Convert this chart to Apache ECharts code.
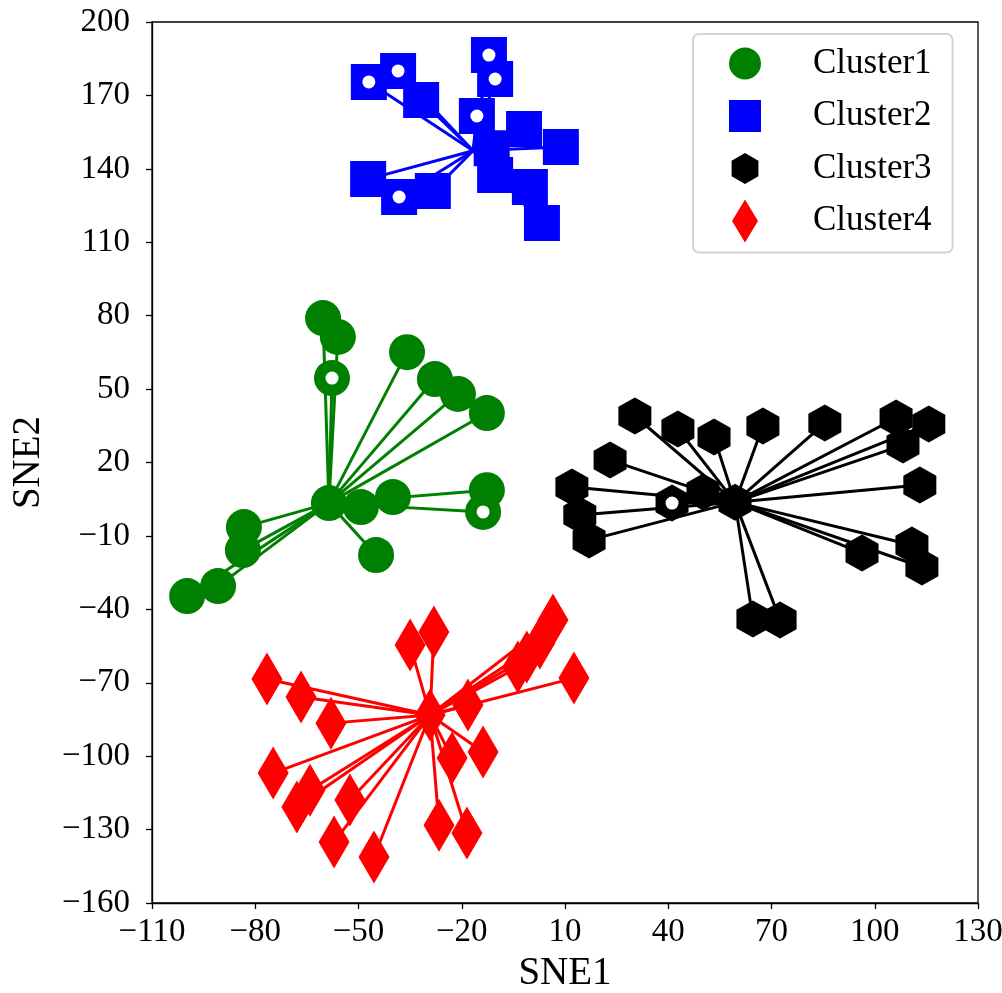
<!DOCTYPE html>
<html>
<head>
<meta charset="utf-8">
<title>SNE clusters</title>
<script src="https://cdn.jsdelivr.net/npm/echarts@6/dist/echarts.min.js"></script>
<style>
  html, body { margin: 0; padding: 0; background: #ffffff; }
  #chart { width: 1002px; height: 993px; }
</style>
</head>
<body>
<div id="chart"></div>
<script>
// Embedded points (SNE1, SNE2) for each cluster
const cluster1Points = [
  [-60.3, 79.0], [-56.0, 71.3], [-57.7, 54.5], [-35.9, 65.1], [-27.8, 54.1],
  [-21.1, 48.0], [-12.7, 40.2], [-58.6, 3.4], [-49.3, 1.8], [-40.0, 5.9],
  [-12.7, 8.7], [-13.8, -0.2], [-44.9, -17.8], [-83.3, -6.4], [-83.6, -15.8],
  [-90.8, -30.5], [-99.8, -34.6]
];
const cluster1Center = [-58.6, 3.4];
const cluster1Marked = [2, 11];

const cluster2Points = [
  [-47.0, 175.5], [-38.5, 180.0], [-31.8, 168.1], [-12.1, 186.5], [-10.3, 176.7],
  [-15.6, 161.6], [-1.9, 156.3], [8.8, 148.9], [-11.3, 148.4], [-10.3, 137.5],
  [-0.2, 132.6], [3.3, 117.9], [-47.2, 135.8], [-38.2, 128.5], [-28.4, 130.9]
];
const cluster2Center = [-16.7, 147.4];
const cluster2Marked = [0, 1, 3, 4, 5, 13];

const cluster3Points = [
  [30.3, 39.0], [42.8, 33.7], [53.3, 30.4], [67.5, 34.9], [85.5, 36.1],
  [106.2, 38.2], [115.7, 35.7], [108.2, 27.1], [23.1, 21.0], [12.0, 10.0],
  [14.3, -1.5], [17.0, -11.7], [41.1, 3.4], [50.1, 7.9], [59.4, 3.8],
  [113.1, 10.8], [96.3, -17.0], [110.8, -13.7], [113.7, -22.7], [64.6, -44.0],
  [72.5, -44.4]
];
const cluster3Center = [59.4, 3.8];
const cluster3Marked = [12];

const cluster4Points = [
  [-76.6, -68.5], [-66.7, -75.8], [-58.0, -86.5], [-35.0, -54.6], [-28.1, -49.3],
  [6.5, -44.4], [2.7, -53.8], [-1.1, -59.5], [-3.7, -63.6], [12.6, -68.1],
  [-18.2, -79.1], [-29.2, -83.2], [-13.8, -98.3], [-22.8, -100.8], [-74.8, -106.9],
  [-64.1, -113.9], [-67.9, -120.8], [-52.5, -117.9], [-57.1, -135.1], [-45.5, -141.2],
  [-26.6, -128.2], [-18.5, -131.4]
];
const cluster4Center = [-29.2, -83.2];
const cluster4Marked = [];

const clusterNames = ['Cluster1', 'Cluster2', 'Cluster3', 'Cluster4'];
const clusterColors = ['#008000', '#0000ff', '#000000', '#ff0000'];

const xTicks = { min: -110, max: 130, step: 30 };
const yTicks = { min: -160, max: 200, step: 30 };

// Marker shapes
const HEX = 'path://M0,-1 L0.866,-0.5 L0.866,0.5 L0,1 L-0.866,0.5 L-0.866,-0.5 Z';
const markerSymbols = ['circle', 'rect', HEX, 'diamond'];
const markerSizes = [36, 36, [33, 37], [31, 53]];

// Legend icons share a 32x43 box so every shape keeps its own proportions
const legendIcons = [
  'path://M0,21.5 A16,16 0 1,1 32,21.5 A16,16 0 1,1 0,21.5 Z M0,0 M32,43',
  'path://M0,5.5 L32,5.5 L32,37.5 L0,37.5 Z M0,0 M32,43',
  'path://M16,6 L29.4,13.75 L29.4,29.25 L16,37 L2.6,29.25 L2.6,13.75 Z M0,0 M32,43',
  'path://M16,0 L29,21.5 L16,43 L3,21.5 Z M0,0 M32,43'
];

const clusters = [
  { pts: cluster1Points, center: cluster1Center, marked: cluster1Marked },
  { pts: cluster2Points, center: cluster2Center, marked: cluster2Marked },
  { pts: cluster3Points, center: cluster3Center, marked: cluster3Marked },
  { pts: cluster4Points, center: cluster4Center, marked: cluster4Marked }
];

const FONT = '"Liberation Serif", "Times New Roman", serif';
const minus = v => String(v).replace('-', '\u2212');

const series = [];
clusters.forEach((c, i) => {
  // spokes from the cluster hub to each member
  series.push({
    name: clusterNames[i] + ' links',
    type: 'lines',
    coordinateSystem: 'cartesian2d',
    z: 1 + i * 3,
    silent: true,
    lineStyle: { color: clusterColors[i], width: 3, opacity: 1 },
    data: c.pts
      .filter(p => !(p[0] === c.center[0] && p[1] === c.center[1]))
      .map(p => ({ coords: [c.center, p] }))
  });
  series.push({
    name: clusterNames[i],
    type: 'scatter',
    z: 2 + i * 3,
    symbol: markerSymbols[i],
    symbolSize: markerSizes[i],
    itemStyle: { color: clusterColors[i], opacity: 1 },
    data: c.pts
  });
  if (c.marked.length) {
    series.push({
      name: clusterNames[i] + ' marked',
      type: 'scatter',
      z: 3 + i * 3,
      symbol: 'circle',
      symbolSize: 13,
      itemStyle: { color: '#ffffff', opacity: 1 },
      data: c.marked.map(k => c.pts[k])
    });
  }
});

const chart = echarts.init(document.getElementById('chart'), null, { renderer: 'canvas' });
chart.setOption({
  animation: false,
  backgroundColor: '#ffffff',
  grid: {
    left: 152, right: 24, top: 22, bottom: 90,
    outerBoundsMode: 'none',
    show: true, borderColor: '#000000', borderWidth: 1.3, backgroundColor: 'transparent'
  },
  xAxis: {
    type: 'value',
    min: xTicks.min, max: xTicks.max, interval: xTicks.step,
    name: 'SNE1', nameLocation: 'middle', nameGap: 44,
    nameTextStyle: { fontFamily: FONT, fontSize: 39, color: '#000' },
    axisLine: { show: true, onZero: false, lineStyle: { color: '#000', width: 1.3 } },
    axisTick: { show: true, inside: false, length: 6, lineStyle: { color: '#000', width: 1.3 } },
    axisLabel: { fontFamily: FONT, fontSize: 33, color: '#000', margin: 13, formatter: minus },
    splitLine: { show: false }
  },
  yAxis: {
    type: 'value',
    min: yTicks.min, max: yTicks.max, interval: yTicks.step,
    name: 'SNE2', nameLocation: 'middle', nameGap: 104, nameRotate: 90,
    nameTextStyle: { fontFamily: FONT, fontSize: 39, color: '#000' },
    axisLine: { show: true, onZero: false, lineStyle: { color: '#000', width: 1.3 } },
    axisTick: { show: true, inside: false, length: 6, lineStyle: { color: '#000', width: 1.3 } },
    axisLabel: { fontFamily: FONT, fontSize: 33, color: '#000', margin: 22, formatter: minus },
    splitLine: { show: false }
  },
  legend: {
    orient: 'vertical',
    left: 693, top: 34,
    padding: [8, 21, 10, 36],
    itemWidth: 32, itemHeight: 43,
    itemGap: 9.5,
    backgroundColor: '#ffffff',
    borderColor: '#d4d4d4', borderWidth: 2, borderRadius: 6,
    selectedMode: false,
    textStyle: { fontFamily: FONT, fontSize: 35, color: '#000', padding: [0, 0, 0, 47] },
    data: clusterNames.map((n, i) => ({ name: n, icon: legendIcons[i] }))
  },
  series: series
});
</script>
</body>
</html>
